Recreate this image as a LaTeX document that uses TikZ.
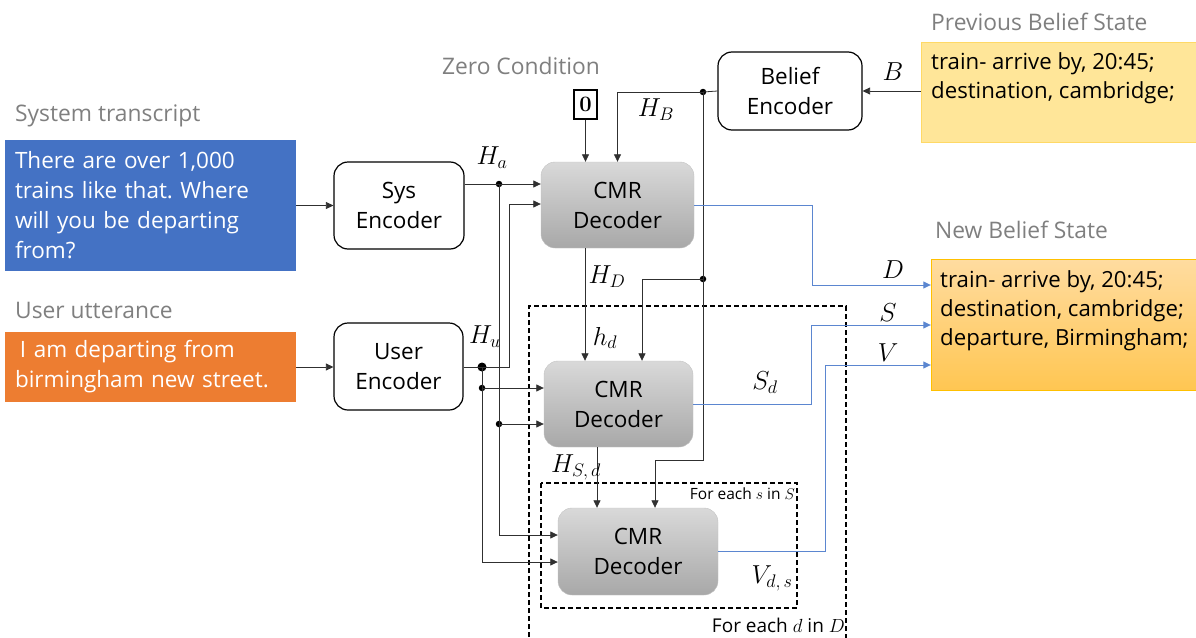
\documentclass[tikz,border=0pt]{standalone}
\usepackage{fix-cm}
\usepackage[no-math]{fontspec}
\setmainfont{Open Sans}
\usetikzlibrary{arrows.meta}
\frenchspacing
\definecolor{sysblue}{HTML}{4472C4}
\definecolor{usrorange}{HTML}{ED7D31}
\definecolor{labgray}{HTML}{7F7F7F}
\definecolor{prevfill}{HTML}{FFE699}
\definecolor{prevline}{HTML}{FFD966}
\definecolor{newtop}{HTML}{FFDCA0}
\definecolor{newbot}{HTML}{FFC652}
\definecolor{newline}{HTML}{FFC000}
\definecolor{dectop}{HTML}{D9D9D9}
\definecolor{decbot}{HTML}{A8A8A8}
\definecolor{wire}{HTML}{303030}
\definecolor{bluewire}{HTML}{5B86D0}
\tikzset{
  txt/.style={font=\fontsize{22.5}{30}\selectfont},
  beltxt/.style={font=\fontsize{22.2}{29}\selectfont, align=left, inner sep=0pt},
  graylab/.style={font=\fontsize{22.8}{28}\selectfont, text=labgray, inner sep=0pt},
  inbox/.style={rectangle, inner sep=0pt, txt, text=white, align=left},
  enc/.style={draw, rounded corners=14pt, line width=1.2pt, align=center, txt, inner sep=0pt},
  dec/.style={draw=decbot!70, rounded corners=14pt, top color=dectop, bottom color=decbot, align=center, txt, inner sep=0pt},
  arr/.style={draw=wire, line width=0.8pt, -{Triangle[length=7.5pt,width=7pt]}},
  wireline/.style={draw=wire, line width=0.8pt},
  barr/.style={draw=bluewire, line width=0.9pt, -{Triangle[length=7.5pt,width=7pt]}},
  dot/.style={circle, fill=black, inner sep=0pt, minimum size=6.5pt},
  bigdot/.style={circle, fill=black, inner sep=0pt, minimum size=9pt},
  mlab/.style={font=\fontsize{26}{30}\selectfont, inner sep=0pt},
  loopbox/.style={dashed, dash pattern=on 5pt off 3pt, line width=1.1pt},
}
\begin{document}
\begin{tikzpicture}[x=1pt,y=-1pt]
\useasboundingbox (0,0) rectangle (1196,637);

% input boxes
\node[graylab, anchor=west] (systitle) at (15,116) {System transcript};
\node[inbox, fill=sysblue, minimum width=291pt, minimum height=131pt, text width=271pt] (sysbox) at (150.5,205.5)
  {There are over 1,000\\trains like that. Where\\will you be departing\\from?};
\node[graylab, anchor=west] (usrtitle) at (15,310) {User utterance};
\node[inbox, fill=usrorange, minimum width=291pt, minimum height=70pt, text width=271pt] (usrbox) at (150.5,367)
  {\hspace{5pt}I am departing from\\birmingham new street.};

% encoders
\node[enc, minimum width=130pt, minimum height=87pt] (sysenc) at (399,205.5) {Sys\\Encoder};
\node[enc, minimum width=129pt, minimum height=87pt] (usrenc) at (398.5,366.5) {User\\Encoder};
\node[enc, minimum width=144pt, minimum height=78pt] (belenc) at (790,91) {Belief\\Encoder};

% belief state boxes
\node[graylab, anchor=west] (prevtitle) at (931,22) {Previous Belief State};
\node[rectangle, draw=prevline, fill=prevfill, minimum width=275pt, minimum height=100pt, inner sep=0pt] (prev) at (1058.5,92) {};
\node[beltxt, anchor=west] (prevtxt) at (931,77.8) {train- arrive by, 20:45;\\destination, cambridge;};
\node[graylab, anchor=west] (newtitle) at (935,230) {New Belief State};
\node[rectangle, draw=newline, top color=newtop, bottom color=newbot, minimum width=265pt, minimum height=131pt, inner sep=0pt] (newbox) at (1063.5,324.5) {};
\node[beltxt, anchor=west] (newtxt) at (940,311) {train- arrive by, 20:45;\\destination, cambridge;\\departure, Birmingham;};

% decoders
\node[dec, minimum width=153pt, minimum height=86pt] (cmr1) at (617.5,205) {CMR\\Decoder};
\node[dec, minimum width=149pt, minimum height=86pt] (cmr2) at (618.5,404) {CMR\\Decoder};
\node[dec, minimum width=160pt, minimum height=87pt] (cmr3) at (638,551.5) {CMR\\Decoder};

% zero condition
\node[graylab] (zerotitle) at (521,66) {Zero Condition};
\node[draw, line width=1.2pt, minimum width=23pt, minimum height=29pt, inner sep=0pt, font=\fontsize{22}{24}\selectfont] (zero) at (585.5,104.5) {$\mathbf{0}$};

% loop boxes
\draw[loopbox] (529,645) -- (529,306) -- (846,306) -- (846,645);
\draw[loopbox] (541,483) rectangle (797,608);
\node[anchor=east, inner sep=0pt, font=\fontsize{15.5}{18}\selectfont] (forS) at (795,494) {For each $s$ in $S$};
\node[anchor=east, inner sep=0pt, font=\fontsize{19}{22}\selectfont] (forD) at (845,625) {For each $d$ in $D$};

% junctions
\node[dot] (ha) at (499,184) {};
\node[dot] (ha2) at (499,424) {};
\node[dot] (hb) at (703,92) {};
\node[dot] (hb2) at (703,279) {};
\node[bigdot] (hu) at (482,367) {};
\node[dot] (hu2) at (482,388) {};
\coordinate (huup) at (509,204);
\coordinate (hbdown) at (703,460);
\coordinate (bD) at (812,285);
\coordinate (bS) at (811,325);
\coordinate (bV) at (825,365);

% input arrows
\draw[arr] (sysbox.east) -- (sysenc.west);
\draw[arr] (usrbox.east) -- (usrenc.west |- usrbox.east);
\draw[arr] (prev.west |- belenc.east) -- (belenc.east);

% belief encoder outputs
\draw[wireline] (belenc.west) -- (hb.center);
\draw[arr] (hb.center) -| (cmr1.north);
\draw[arr] (hb2.center) -| ([xshift=23.5pt]cmr2.north);
\draw[arr] (hb.center) -- (hbdown) -| ([xshift=17pt]cmr3.north);

% zero
\draw[arr] (zero.south) -- (zero.south |- cmr1.north);

% sys encoder outputs
\draw[arr] (sysenc.east |- ha) -- (cmr1.west |- ha);
\draw[arr] (ha.center) |- ([yshift=16.5pt]cmr3.west);
\draw[arr] (ha2.center) -- (cmr2.west |- ha2);

% user encoder outputs
\draw[wireline] (usrenc.east |- hu) -- (hu.center);
\draw[arr] (hu.center) -| (huup) -- (cmr1.west |- huup);
\draw[arr] (hu.center) |- ([yshift=-10.5pt]cmr3.west);
\draw[arr] (hu2.center) -- (cmr2.west |- hu2);

% decoder chain
\draw[arr] ([xshift=-32.5pt]cmr1.south) -- ([xshift=-32.5pt]cmr1.south |- cmr2.north);
\draw[arr] ([xshift=-21.5pt]cmr2.south) -- ([xshift=-21.5pt]cmr2.south |- cmr3.north);

% blue outputs
\draw[barr] (cmr1.east) -| (bD) -- (newbox.west |- bD);
\draw[barr] (cmr2.east) -| (bS) -- (newbox.west |- bS);
\draw[barr] (cmr3.east) -| (bV) -- (newbox.west |- bV);

% math labels
\node[mlab] (lHa) at (492,158) {$H_a$};
\node[mlab] (lHB) at (656,110) {$H_B$};
\node[mlab] (lHu) at (485,337) {$H_u$};
\node[mlab] (lHD) at (607,277) {$H_D$};
\node[mlab] (lhd) at (605,338) {$h_d$};
\node[mlab] (lHSd) at (576,467) {$H_{S,\,d}$};
\node[mlab] (lSd) at (765,383) {$S_d$};
\node[mlab] (lVds) at (772,578) {$V_{d,\,s}$};
\node[mlab] (lD) at (893,270) {$D$};
\node[mlab] (lS) at (888,313) {$S$};
\node[mlab] (lV) at (888,353) {$V$};
\node[mlab] (lB) at (893,72) {$B$};
\end{tikzpicture}
\end{document}
